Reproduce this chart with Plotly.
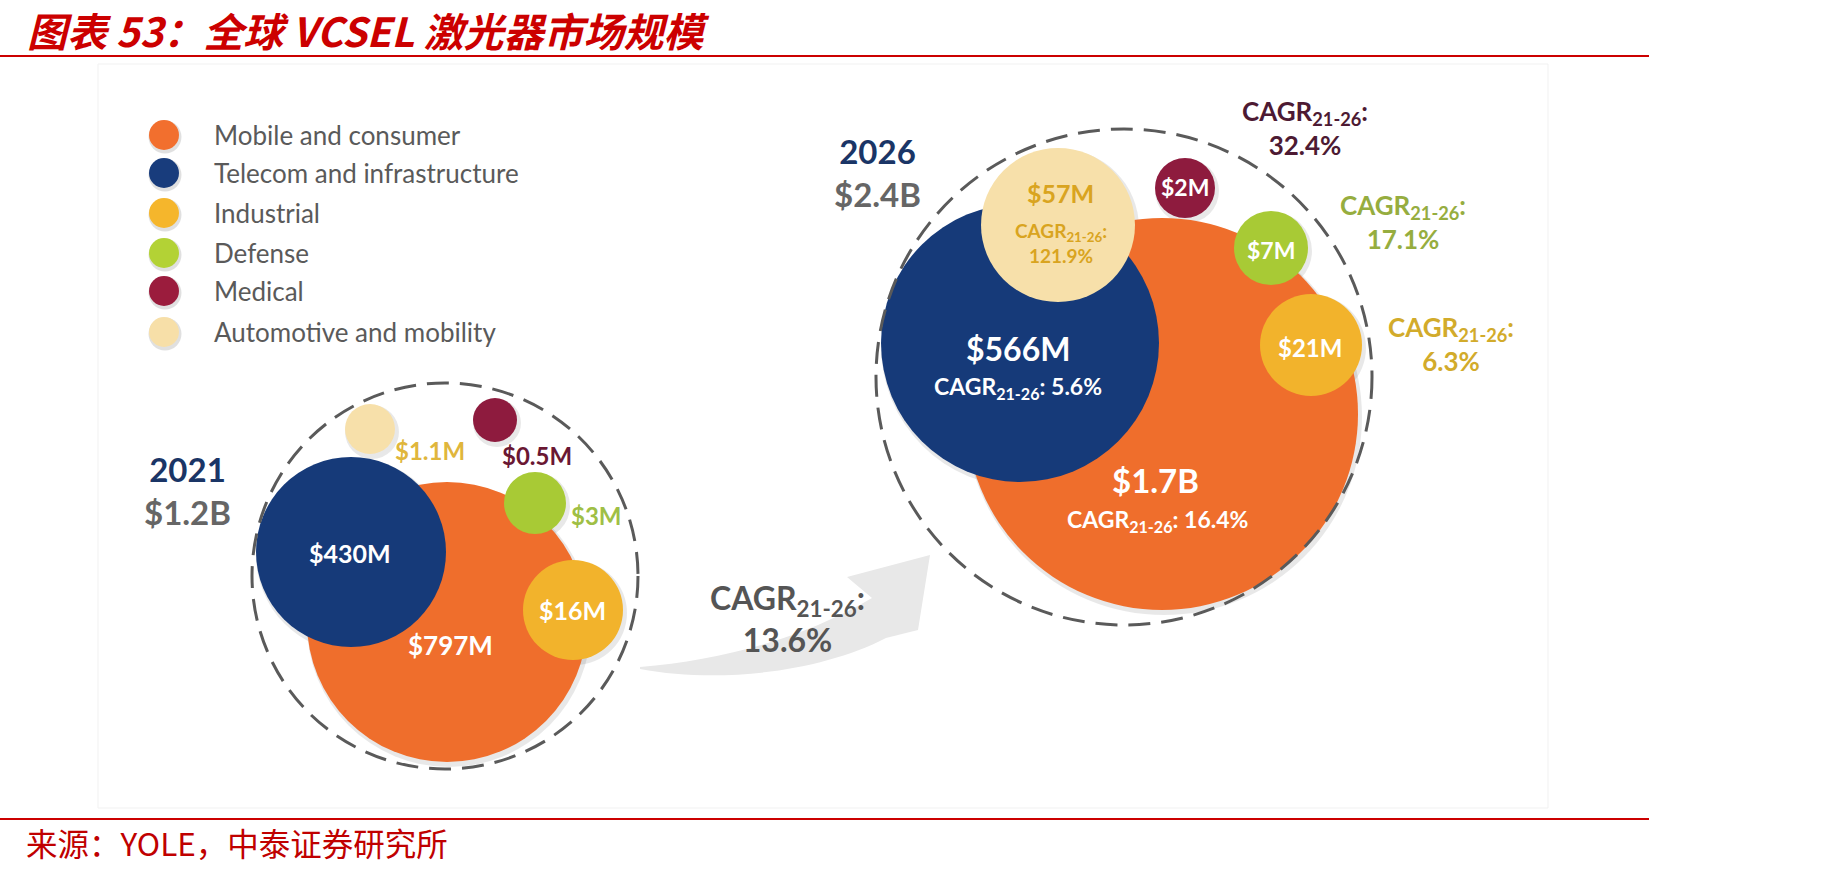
import plotly.graph_objects as go

# ---------------- data ----------------
segments = ["Mobile and consumer", "Telecom and infrastructure", "Industrial",
            "Defense", "Medical", "Automotive and mobility"]
value_2021_musd = [797, 430, 16, 3, 0.5, 1.1]
value_2026_musd = [1700, 566, 21, 7, 2, 57]
cagr_21_26 = [16.4, 5.6, 6.3, 17.1, 32.4, 121.9]
total_2021_busd = 1.2
total_2026_busd = 2.4
total_cagr = 13.6
years = ["2021", "2026"]

# ---------------- styles ----------------
seg_colors = ["#ef6e2c", "#163a79", "#f2b32c", "#a8ca35", "#8e1b3e", "#f7e0aa"]
legend_colors = ["#f26f2e", "#183c7c", "#f5b62c", "#b3d235", "#9b1c3d", "#f7dfa8"]
cagr_colors = ["#ffffff", "#ffffff", "#d2ab2b", "#96ad3f", "#4d1a33", "#d9a420"]
lab21_colors = ["#ffffff", "#ffffff", "#ffffff", "#9fbf45", "#6a1733", "#e0b63c"]
lab26_colors = ["#ffffff", "#ffffff", "#ffffff", "#ffffff", "#ffffff", "#d9a420"]
FONT = "Lato"
CJK = "Noto Sans CJK SC"
RED = "#cc0000"

# ---------------- layout positions (pixels) ----------------
pos21_x = [447, 351, 573, 535, 495, 370]
pos21_y = [622, 552, 610, 503, 420, 429]
rad21 = [140, 95, 50, 31, 22, 25]
lab21_x = [450, 350, 572, 596, 537, 430]
lab21_y = [645, 553, 610, 515, 455, 450]
lab21_size = [26, 25, 25, 24, 24, 24]

pos26_x = [1162, 1020, 1311, 1271, 1185, 1058]
pos26_y = [414, 343, 345, 248, 188, 225]
rad26 = [196, 139, 51, 37, 30, 77]
lab26_x = [1155, 1018, 1310, 1271, 1185, 1060]
lab26_y = [480, 348, 347, 250, 187, 193]
lab26_size = [33, 32, 24, 23, 23, 25]
cagr_x = [1157, 1018, 1451, 1403, 1305, 1061]
cagr_y = [520, 387, 344, 222, 128, 243]
cagr_size = [23, 23, 26, 26, 26, 19]
cagr_inline = [True, True, False, False, False, False]

legend_x = 164
legend_y = [135, 173, 213, 253, 291, 332]

ring21 = (445, 576, 193)
ring26 = (1124, 377, 248)


def fmt(v):
    if v >= 1000:
        return f"${v / 1000:.1f}B"
    return f"${v:g}M"


fig = go.Figure()

# shadows + bubbles
for xs, ys, rs in [(pos21_x, pos21_y, rad21), (pos26_x, pos26_y, rad26)]:
    fig.add_trace(go.Scatter(
        x=[x + 2 for x in xs], y=[y + 3 for y in ys], mode="markers",
        marker=dict(size=[2 * r + 4 for r in rs], color="rgba(0,0,0,0.13)", line=dict(width=0)),
        hoverinfo="skip", showlegend=False))
    fig.add_trace(go.Scatter(
        x=xs, y=ys, mode="markers",
        marker=dict(size=[2 * r for r in rs], color=seg_colors, line=dict(width=0), opacity=1),
        hoverinfo="skip", showlegend=False))

# legend markers
fig.add_trace(go.Scatter(
    x=[legend_x + 1 for _ in legend_y], y=[y + 2 for y in legend_y], mode="markers",
    marker=dict(size=33, color="rgba(0,0,0,0.12)", line=dict(width=0)),
    hoverinfo="skip", showlegend=False))
fig.add_trace(go.Scatter(
    x=[legend_x] * len(legend_y), y=legend_y, mode="markers",
    marker=dict(size=30, color=legend_colors, line=dict(width=0)),
    hoverinfo="skip", showlegend=False))

ann = []
for name, y in zip(segments, legend_y):
    ann.append(dict(x=212, y=y, text=name, xanchor="left", yanchor="middle",
                    font=dict(family=FONT, size=26, color="#5a5a5a")))

# 2021 labels
for i in range(6):
    ann.append(dict(x=lab21_x[i], y=lab21_y[i], text=f"<b>{fmt(value_2021_musd[i])}</b>",
                    font=dict(family=FONT, size=lab21_size[i], color=lab21_colors[i])))
# 2026 labels
for i in range(6):
    ann.append(dict(x=lab26_x[i], y=lab26_y[i], text=f"<b>{fmt(value_2026_musd[i])}</b>",
                    font=dict(family=FONT, size=lab26_size[i], color=lab26_colors[i])))
    c = cagr_21_26[i]
    sep = " " if cagr_inline[i] else "<br>"
    ann.append(dict(x=cagr_x[i], y=cagr_y[i],
                    text=f"<b>CAGR<sub>21-26</sub>:{sep}{c:g}%</b>",
                    font=dict(family=FONT, size=cagr_size[i], color=cagr_colors[i])))

# year totals (one text block each)
ann += [
    dict(x=187, y=490, text=(f"<b><span style='color:#1a3566'>{years[0]}</span><br>"
                             f"${total_2021_busd:g}B</b>"),
         font=dict(family=FONT, size=33, color="#666666")),
    dict(x=877, y=172, text=(f"<b><span style='color:#1a3566'>{years[1]}</span><br>"
                             f"${total_2026_busd:g}B</b>"),
         font=dict(family=FONT, size=33, color="#666666")),
    dict(x=787, y=618, text=f"<b>CAGR<sub>21-26</sub>:<br>{total_cagr:g}%</b>",
         font=dict(family=FONT, size=32, color="#555555")),
]

# title & source
ann.append(dict(x=26, y=30, text="<b><i>图表 53：全球 VCSEL 激光器市场规模</i></b>", xanchor="left",
                yanchor="middle", borderpad=0, font=dict(family=CJK, size=40, color=RED)))
ann.append(dict(x=24, y=842, text="来源：YOLE，中泰证券研究所", xanchor="left", yanchor="middle",
                font=dict(family=CJK, size=31.5, color="#c00000")))

for a in ann:
    a.setdefault("xref", "x")
    a.setdefault("yref", "y")
    a.setdefault("showarrow", False)

shapes = [
    dict(type="rect", x0=98, y0=64, x1=1548, y1=808, line=dict(color="#f1f1f1", width=1), layer="below"),
    dict(type="line", x0=0, x1=1649, y0=56, y1=56, line=dict(color=RED, width=2)),
    dict(type="line", x0=0, x1=1649, y0=819, y1=819, line=dict(color=RED, width=2)),
    dict(type="path",
         path="M 640,669 C 720,684 820,672 886,638 L 918,630 L 930,555 L 847,577 L 872,598 "
              "C 800,640 720,660 640,667 Z",
         fillcolor="#e8e8e8", line=dict(width=0), layer="below"),
]
for cx, cy, r in [ring21, ring26]:
    shapes.append(dict(type="circle", x0=cx - r, x1=cx + r, y0=cy - r, y1=cy + r,
                       line=dict(color="#5a5a5a", width=3, dash="22px,11px")))
for s in shapes:
    s["xref"] = "x"
    s["yref"] = "y"

fig.update_layout(
    width=1830, height=873,
    margin=dict(l=0, r=0, t=0, b=0, pad=0),
    paper_bgcolor="white", plot_bgcolor="white",
    xaxis=dict(range=[0, 1830], visible=False, fixedrange=True),
    yaxis=dict(range=[873, 0], visible=False, fixedrange=True),
    annotations=ann, shapes=shapes, showlegend=False,
)

fig.write_html("out.html")
